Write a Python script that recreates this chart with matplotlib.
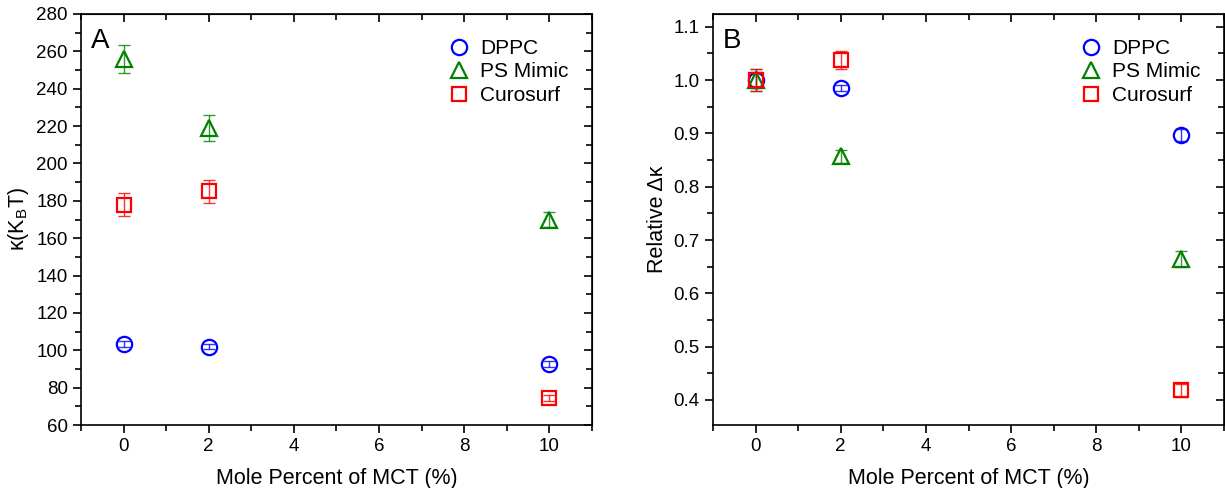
import numpy as np
import matplotlib.pyplot as plt
from matplotlib.ticker import MultipleLocator

plt.rcParams['font.family'] = ['Liberation Sans', 'DejaVu Sans']
plt.rcParams['mathtext.default'] = 'regular'

mct = [0, 2, 10]
names = ['DPPC', 'PS Mimic', 'Curosurf']

# panel A: bending rigidity (kBT)
kappa_dppc = [103.5, 102.0, 92.5]
kappa_dppc_err = [1.5, 1.5, 1.5]
kappa_ps = [256.0, 219.0, 170.0]
kappa_ps_err = [7.5, 7.0, 4.0]
kappa_curo = [178.0, 185.0, 74.5]
kappa_curo_err = [6.0, 6.0, 1.5]

# panel B: relative change
rel_dppc = [1.0, 0.985, 0.897]
rel_dppc_err = [0.015, 0.006, 0.012]
rel_ps = [1.0, 0.857, 0.665]
rel_ps_err = [0.02, 0.012, 0.015]
rel_curo = [1.0, 1.037, 0.418]
rel_curo_err = [0.02, 0.017, 0.012]

colors = ['#0000ff', '#008000', '#ff0000']
markers = ['o', '^', 's']


def style_axes(ax, ymajor, yminor):
    ax.set_xlim(-1, 11)
    ax.xaxis.set_major_locator(MultipleLocator(2))
    ax.xaxis.set_minor_locator(MultipleLocator(1))
    ax.yaxis.set_major_locator(MultipleLocator(ymajor))
    ax.yaxis.set_minor_locator(MultipleLocator(yminor))
    ax.tick_params(which='both', direction='out', top=False, right=False, labelsize=13.5, width=1.2)
    ax.tick_params(which='major', length=6)
    ax.tick_params(which='minor', length=4)
    for s in ax.spines.values():
        s.set_linewidth(1.2)
    # inward ticks on top and right
    sec = ax.secondary_xaxis('top')
    sec.xaxis.set_major_locator(MultipleLocator(2))
    sec.xaxis.set_minor_locator(MultipleLocator(1))
    sec.tick_params(which='both', direction='in', labeltop=False, width=1.2)
    sec.tick_params(which='major', length=6)
    sec.tick_params(which='minor', length=4)
    secy = ax.secondary_yaxis('right')
    secy.yaxis.set_major_locator(MultipleLocator(ymajor))
    secy.yaxis.set_minor_locator(MultipleLocator(yminor))
    secy.tick_params(which='both', direction='in', labelright=False, width=1.2)
    secy.tick_params(which='major', length=6)
    secy.tick_params(which='minor', length=4)
    ax.set_xlabel('Mole Percent of MCT (%)', fontsize=15.5, labelpad=9)


fig = plt.figure(figsize=(12.25, 4.88), dpi=100)
ax1 = fig.add_axes([81 / 1225, 1 - 425 / 488, 511 / 1225, 411 / 488])
ax2 = fig.add_axes([713 / 1225, 1 - 425 / 488, 511 / 1225, 411 / 488])

seriesA = [(kappa_dppc, kappa_dppc_err), (kappa_ps, kappa_ps_err), (kappa_curo, kappa_curo_err)]
seriesB = [(rel_dppc, rel_dppc_err), (rel_ps, rel_ps_err), (rel_curo, rel_curo_err)]

for ax, series in [(ax1, seriesA), (ax2, seriesB)]:
    for (y, e), c, m, n in zip(series, colors, markers, names):
        ax.errorbar(mct, y, yerr=e, fmt='none', ecolor=c, elinewidth=1, capsize=4, capthick=1, alpha=0.8)
        ax.plot(mct, y, linestyle='none', marker=m, markersize=11 if m != 's' else 10,
                markerfacecolor='none', markeredgecolor=c, markeredgewidth=1.6, label=n)
    ax.legend(loc='upper right', frameon=False, fontsize=15, handletextpad=0.2,
              handlelength=1.6, labelspacing=0.22, bbox_to_anchor=(0.99, 0.985),
              borderaxespad=0.5)

ax1.set_ylim(60, 280)
style_axes(ax1, 20, 10)
ax1.set_ylabel('κ(K$_B$T)', fontsize=15.5)
ax1.text(0.02, 0.965, 'A', transform=ax1.transAxes, fontsize=20, va='top')

ax2.set_ylim(0.353, 1.124)
style_axes(ax2, 0.1, 0.05)
ax2.yaxis.set_major_formatter(plt.FormatStrFormatter('%.1f'))
ax2.set_ylabel('Relative Δκ', fontsize=15.5)
ax2.text(0.02, 0.965, 'B', transform=ax2.transAxes, fontsize=20, va='top')

fig.savefig('out.png', dpi=100)
